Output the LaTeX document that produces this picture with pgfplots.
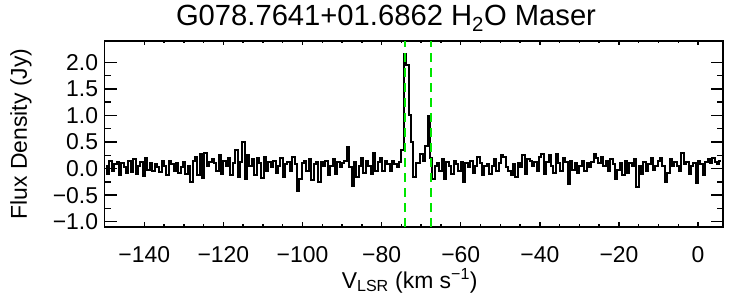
\documentclass[border=0pt]{standalone}
\usepackage{fontspec}
\setmainfont{Liberation Sans}
\usepackage{pgfplots}
\pgfplotsset{compat=1.18}
\definecolor{lg}{RGB}{0,230,0}
\begin{document}
\begin{tikzpicture}
\useasboundingbox (-104.7bp,-73bp) rectangle (645.3bp,227bp);
\begin{axis}[
  at={(0,0)}, anchor=south west,
  scale only axis, width=618.3bp, height=186bp,
  xmin=-150, xmax=6.3, ymin=-1.1, ymax=2.4,
  axis line style={line width=1.6bp},
  every tick/.style={line width=1.4bp, black},
  xtick={-140,-120,-100,-80,-60,-40,-20,0},
  xticklabels={−140,−120,−100,−80,−60,−40,−20,0},
  minor x tick num=3,
  ytick={-1,-0.5,0,0.5,1,1.5,2},
  yticklabels={−1.0,−0.5,0.0,0.5,1.0,1.5,2.0},
  minor y tick num=1,
  xtick style={/pgfplots/major tick length=4.5bp,/pgfplots/minor tick length=2.5bp},
  ytick style={/pgfplots/major tick length=12bp,/pgfplots/minor tick length=6.5bp},
  tick align=inside,
  ticklabel style={font=\fontsize{23}{27}\selectfont, inner sep=0pt},
  xticklabel style={anchor=north, yshift=-19.5bp},
  yticklabel style={anchor=east, xshift=-6.5bp},
  clip=true,
  unbounded coords=jump,
]
\addplot[draw=black, line width=2bp, const plot mark mid] coordinates {
(-149.7,0.05) (-149.1,-0.10) (-148.5,0.15) (-147.9,-0.05) (-147.3,0.08)
(-146.7,0.12) (-146.1,-0.12) (-145.5,0.10) (-144.9,0.02) (-144.3,-0.08)
(-143.7,0.14) (-143.1,-0.06) (-142.5,0.18) (-141.9,-0.10) (-141.3,0.05)
(-140.7,0.12) (-140.1,-0.14) (-139.5,0.20) (-138.9,-0.02) (-138.3,0.10)
(-137.7,-0.05) (-137.1,0.08) (-136.5,0.02) (-135.9,-0.06) (-135.3,0.15)
(-134.7,0.05) (-134.1,-0.12) (-133.5,0.15) (-132.9,0.08) (-132.3,-0.04)
(-131.7,0.10) (-131.1,-0.08) (-130.5,0.02) (-129.9,0.12) (-129.3,-0.10)
(-128.7,0.05) (-128.1,-0.25) (-127.5,0.15) (-126.9,0.22) (-126.3,-0.12)
(-125.7,0.28) (-125.1,-0.18) (-124.5,0.30) (-123.9,0.05) (-123.3,0.12)
(-122.7,0.18) (-122.1,0.10) (-121.5,-0.05) (-120.9,0.25) (-120.3,-0.10)
(-119.7,0.15) (-119.1,0.05) (-118.5,0.20) (-117.9,-0.12) (-117.3,0.10)
(-116.7,0.35) (-116.1,-0.15) (-115.5,0.12) (-114.9,0.50) (-114.3,-0.20)
(-113.7,0.25) (-113.1,0.05) (-112.5,0.18) (-111.9,-0.12) (-111.3,0.20)
(-110.7,0.10) (-110.1,-0.18) (-109.5,0.22) (-108.9,-0.05) (-108.3,0.12)
(-107.7,0.02) (-107.1,0.15) (-106.5,-0.08) (-105.9,0.05) (-105.3,0.20)
(-104.7,-0.15) (-104.1,0.08) (-103.5,0.12) (-102.9,-0.05) (-102.3,0.22)
(-101.7,0.08) (-101.1,-0.42) (-100.5,-0.20) (-99.9,0.10) (-99.3,0.15)
(-98.7,-0.05) (-98.1,0.18) (-97.5,-0.22) (-96.9,0.08) (-96.3,0.12)
(-95.7,-0.25) (-95.1,0.12) (-94.5,0.05) (-93.9,0.15) (-93.3,-0.12)
(-92.7,0.05) (-92.1,0.18) (-91.5,-0.10) (-90.9,0.12) (-90.3,0.02)
(-89.7,0.10) (-89.1,0.15) (-88.5,0.40) (-87.9,0.02) (-87.3,-0.32)
(-86.7,0.12) (-86.1,-0.15) (-85.5,0.05) (-84.9,0.20) (-84.3,-0.08)
(-83.7,0.15) (-83.1,0.05) (-82.5,-0.10) (-81.9,0.30) (-81.3,-0.05)
(-80.7,0.12) (-80.1,0.20) (-79.5,-0.05) (-78.9,0.15) (-78.3,0.08)
(-77.7,-0.05) (-77.1,0.15) (-76.5,0.08) (-75.9,0.02) (-75.3,0.12)
(-74.7,0.35) (-74.1,2.15) (-73.5,1.95) (-72.9,1.00) (-72.3,0.50)
(-71.7,-0.15) (-71.1,0.10) (-70.5,0.10) (-69.9,0.28) (-69.3,0.15)
(-68.7,0.42) (-68.1,0.98) (-67.5,0.20) (-66.9,-0.20) (-66.3,0.05)
(-65.7,0.10) (-65.1,-0.05) (-64.5,0.18) (-63.9,-0.20) (-63.3,0.12)
(-62.7,0.05) (-62.1,-0.10) (-61.5,0.15) (-60.9,0.08) (-60.3,-0.05)
(-59.7,0.12) (-59.1,-0.25) (-58.5,0.10) (-57.9,0.02) (-57.3,0.15)
(-56.7,-0.08) (-56.1,0.05) (-55.5,0.22) (-54.9,0.10) (-54.3,-0.12)
(-53.7,0.05) (-53.1,0.08) (-52.5,-0.10) (-51.9,0.05) (-51.3,0.18)
(-50.7,-0.05) (-50.1,0.10) (-49.5,0.25) (-48.9,0.22) (-48.3,0.02)
(-47.7,-0.05) (-47.1,-0.12) (-46.5,0.08) (-45.9,-0.15) (-45.3,0.10)
(-44.7,0.02) (-44.1,0.25) (-43.5,-0.10) (-42.9,0.18) (-42.3,0.15)
(-41.7,0.05) (-41.1,0.12) (-40.5,-0.05) (-39.9,0.22) (-39.3,0.28)
(-38.7,-0.10) (-38.1,0.12) (-37.5,0.25) (-36.9,0.05) (-36.3,-0.08)
(-35.7,0.28) (-35.1,0.10) (-34.5,-0.05) (-33.9,0.20) (-33.3,0.12)
(-32.7,-0.30) (-32.1,0.15) (-31.5,-0.02) (-30.9,0.10) (-30.3,-0.08)
(-29.7,0.05) (-29.1,0.15) (-28.5,-0.05) (-27.9,0.10) (-27.3,0.02)
(-26.7,0.12) (-26.1,0.28) (-25.5,0.20) (-24.9,0.10) (-24.3,0.22)
(-23.7,0.05) (-23.1,0.15) (-22.5,-0.05) (-21.9,0.18) (-21.3,0.08)
(-20.7,-0.20) (-20.1,-0.02) (-19.5,0.10) (-18.9,-0.12) (-18.3,0.15)
(-17.7,-0.08) (-17.1,0.10) (-16.5,0.05) (-15.9,0.18) (-15.3,-0.35)
(-14.7,0.05) (-14.1,-0.10) (-13.5,0.12) (-12.9,-0.05) (-12.3,0.08)
(-11.7,0.20) (-11.1,-0.02) (-10.5,0.05) (-9.9,0.15) (-9.3,0.20)
(-8.7,0.05) (-8.1,-0.25) (-7.5,-0.08) (-6.9,0.18) (-6.3,0.05)
(-5.7,0.12) (-5.1,0.05) (-4.5,-0.05) (-3.9,0.30) (-3.3,0.08)
(-2.7,0.12) (-2.1,-0.10) (-1.5,0.05) (-0.9,0.10) (-0.3,-0.28)
(0.3,0.15) (0.9,0.08) (1.5,-0.12) (2.1,0.12) (2.7,0.18)
(3.3,0.10) (3.9,0.20) (4.5,0.12) (5.1,0.08) (5.7,0.15)
};
\addplot[color=lg, line width=2.2bp, dash pattern=on 9bp off 6bp, forget plot] coordinates {
(-74.05,-1.1) (-74.05,2.4) (-70,nan) (-67.5,-1.1) (-67.5,2.4)
};
\end{axis}
\node[anchor=base, font=\fontsize{29.3}{33}\selectfont, inner sep=0pt] at (281.3bp,201bp) {G078.7641+01.6862 H\textsubscript{2}O Maser};
\node[anchor=base, font=\fontsize{23}{27}\selectfont, inner sep=0pt] at (305bp,-61bp) {V\textsubscript{LSR} (km s\textsuperscript{−1})};
\node[anchor=base, rotate=90, font=\fontsize{23}{27}\selectfont, inner sep=0pt] at (-77.7bp,93bp) {Flux Density (Jy)};
\end{tikzpicture}
\end{document}
